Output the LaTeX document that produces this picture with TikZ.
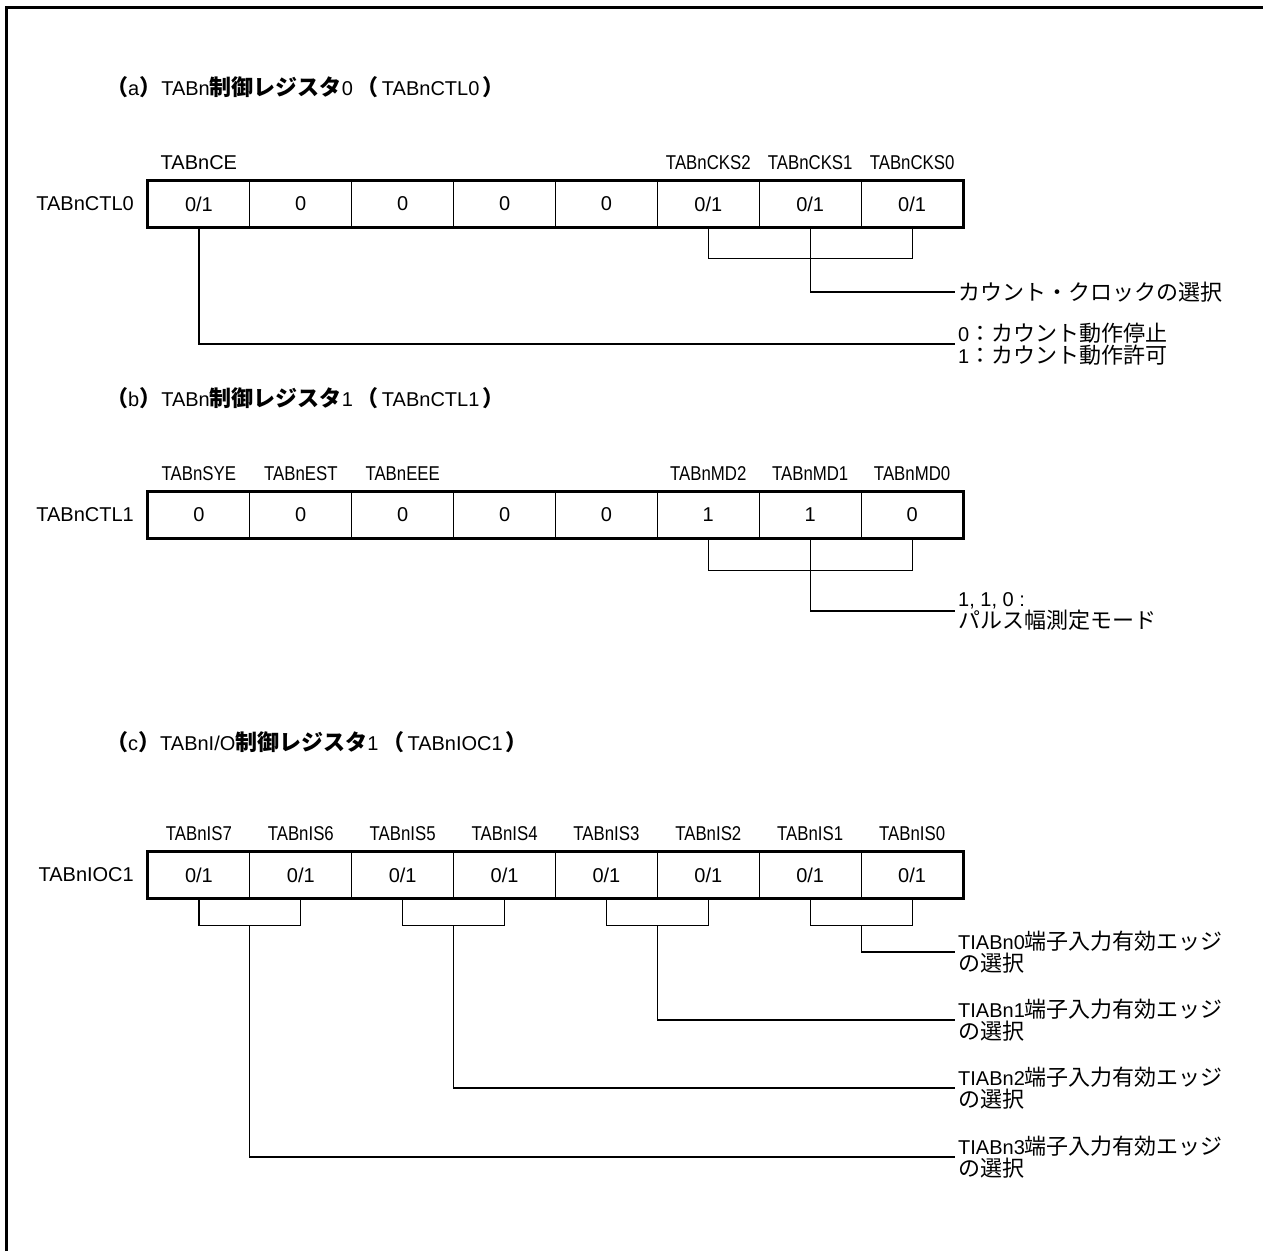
\documentclass[tikz,border=0pt]{standalone}
\usepackage{fontspec}
\setmainfont{Liberation Sans}
\newfontfamily\jp[Scale=1.1]{Noto Sans CJK JP}
\usetikzlibrary{calc}
\newcommand\nar[1]{\scalebox{0.84}[1]{#1}}
\newcommand\jb[1]{{\jp\bfseries #1}}
\tikzset{
  cell/.style={draw, line width=1pt, minimum width=101.875pt, minimum height=46pt, inner sep=0pt, font=\fontsize{20}{24}\selectfont},
  outline/.style={line width=2.8pt},
  bitlab/.style={inner sep=0pt, font=\fontsize{20}{24}\selectfont},
  regname/.style={inner sep=0pt, anchor=east, font=\fontsize{20}{24}\selectfont},
  title/.style={inner sep=0pt, anchor=west, font=\fontsize{20}{24}\selectfont},
  desc/.style={inner sep=3pt, anchor=west, align=left, font=\fontsize{20}{22}\selectfont},
  conn/.style={line width=1.2pt},
  frame/.style={line width=3pt}
}
\begin{document}
\begin{tikzpicture}[x=1pt,y=-1pt]
\useasboundingbox (0,0) rectangle (1263,1251);
\draw[frame] (6,1251) -- (6,7) -- (1263,7);

% ---------- (a)
\node[title] (tia) at (106,87) {\jb{（}a\jb{）}TABn\jb{制御レジスタ}0\hspace{4pt}\jb{（}\hspace{3pt}TABnCTL0\hspace{3pt}\jb{）}};
\node[regname] (ra) at (134,204) {TABnCTL0};
\node[cell] (a1) at (198.9,204) {0/1};
\node[cell] (a2) at (300.8,204) {0};
\node[cell] (a3) at (402.7,204) {0};
\node[cell] (a4) at (504.6,204) {0};
\node[cell] (a5) at (606.4,204) {0};
\node[cell] (a6) at (708.3,204) {0/1};
\node[cell] (a7) at (810.2,204) {0/1};
\node[cell] (a8) at (912.1,204) {0/1};
\draw[outline] (a1.north west) rectangle (a8.south east);
\node[bitlab] (la1) at (198.9,163) {TABnCE};
\node[bitlab] (la6) at (708.3,163) {\nar{TABnCKS2}};
\node[bitlab] (la7) at (810.2,163) {\nar{TABnCKS1}};
\node[bitlab] (la8) at (912.1,163) {\nar{TABnCKS0}};
\node[desc] (da1) at (955,292) {{\jp カウント・クロックの選択}};
\node[desc] (da2) at (955,344) {0{\jp ：カウント動作停止}\\1{\jp ：カウント動作許可}};
\draw[conn] (a6.south) -- ++(0,31) -| (a8.south);
\draw[conn] (a7.south) |- (da1.west);
\draw[conn] (a1.south) |- (da2.west);

% ---------- (b)
\node[title] (tib) at (106,398) {\jb{（}b\jb{）}TABn\jb{制御レジスタ}1\hspace{4pt}\jb{（}\hspace{3pt}TABnCTL1\hspace{3pt}\jb{）}};
\node[regname] (rb) at (134,515) {TABnCTL1};
\node[cell] (b1) at (198.9,515) {0};
\node[cell] (b2) at (300.8,515) {0};
\node[cell] (b3) at (402.7,515) {0};
\node[cell] (b4) at (504.6,515) {0};
\node[cell] (b5) at (606.4,515) {0};
\node[cell] (b6) at (708.3,515) {1};
\node[cell] (b7) at (810.2,515) {1};
\node[cell] (b8) at (912.1,515) {0};
\draw[outline] (b1.north west) rectangle (b8.south east);
\node[bitlab] (lb1) at (198.9,474) {\nar{TABnSYE}};
\node[bitlab] (lb2) at (300.8,474) {\nar{TABnEST}};
\node[bitlab] (lb3) at (402.7,474) {\nar{TABnEEE}};
\node[bitlab] (lb6) at (708.3,474) {\nar{TABnMD2}};
\node[bitlab] (lb7) at (810.2,474) {\nar{TABnMD1}};
\node[bitlab] (lb8) at (912.1,474) {\nar{TABnMD0}};
\node[desc] (db1) at (955,611) {1, 1, 0 :\\{\jp パルス幅測定モード}};
\draw[conn] (b6.south) -- ++(0,32) -| (b8.south);
\draw[conn] (b7.south) |- (db1.west);

% ---------- (c)
\node[title] (tic) at (106,742) {\jb{（}c\jb{）}TABnI/O\jb{制御レジスタ}1\hspace{4pt}\jb{（}\hspace{3pt}TABnIOC1\hspace{3pt}\jb{）}};
\node[regname] (rc) at (134,875) {TABnIOC1};
\node[cell] (c1) at (198.9,875) {0/1};
\node[cell] (c2) at (300.8,875) {0/1};
\node[cell] (c3) at (402.7,875) {0/1};
\node[cell] (c4) at (504.6,875) {0/1};
\node[cell] (c5) at (606.4,875) {0/1};
\node[cell] (c6) at (708.3,875) {0/1};
\node[cell] (c7) at (810.2,875) {0/1};
\node[cell] (c8) at (912.1,875) {0/1};
\draw[outline] (c1.north west) rectangle (c8.south east);
\node[bitlab] (lc1) at (198.9,834) {\nar{TABnIS7}};
\node[bitlab] (lc2) at (300.8,834) {\nar{TABnIS6}};
\node[bitlab] (lc3) at (402.7,834) {\nar{TABnIS5}};
\node[bitlab] (lc4) at (504.6,834) {\nar{TABnIS4}};
\node[bitlab] (lc5) at (606.4,834) {\nar{TABnIS3}};
\node[bitlab] (lc6) at (708.3,834) {\nar{TABnIS2}};
\node[bitlab] (lc7) at (810.2,834) {\nar{TABnIS1}};
\node[bitlab] (lc8) at (912.1,834) {\nar{TABnIS0}};
\node[desc] (dc0) at (955,952) {TIABn0{\jp 端子入力有効エッジ}\\{\jp の選択}};
\node[desc] (dc1) at (955,1020) {TIABn1{\jp 端子入力有効エッジ}\\{\jp の選択}};
\node[desc] (dc2) at (955,1088) {TIABn2{\jp 端子入力有効エッジ}\\{\jp の選択}};
\node[desc] (dc3) at (955,1157) {TIABn3{\jp 端子入力有効エッジ}\\{\jp の選択}};
\draw[conn] (c1.south) -- ++(0,27) -| (c2.south);
\draw[conn] (c3.south) -- ++(0,27) -| (c4.south);
\draw[conn] (c5.south) -- ++(0,27) -| (c6.south);
\draw[conn] (c7.south) -- ++(0,27) -| (c8.south);
\coordinate (m1) at ($(c1.south)!0.5!(c2.south)+(0,27)$);
\coordinate (m2) at ($(c3.south)!0.5!(c4.south)+(0,27)$);
\coordinate (m3) at ($(c5.south)!0.5!(c6.south)+(0,27)$);
\coordinate (m4) at ($(c7.south)!0.5!(c8.south)+(0,27)$);
\draw[conn] (m4) |- (dc0.west);
\draw[conn] (m3) |- (dc1.west);
\draw[conn] (m2) |- (dc2.west);
\draw[conn] (m1) |- (dc3.west);
\end{tikzpicture}
\end{document}
